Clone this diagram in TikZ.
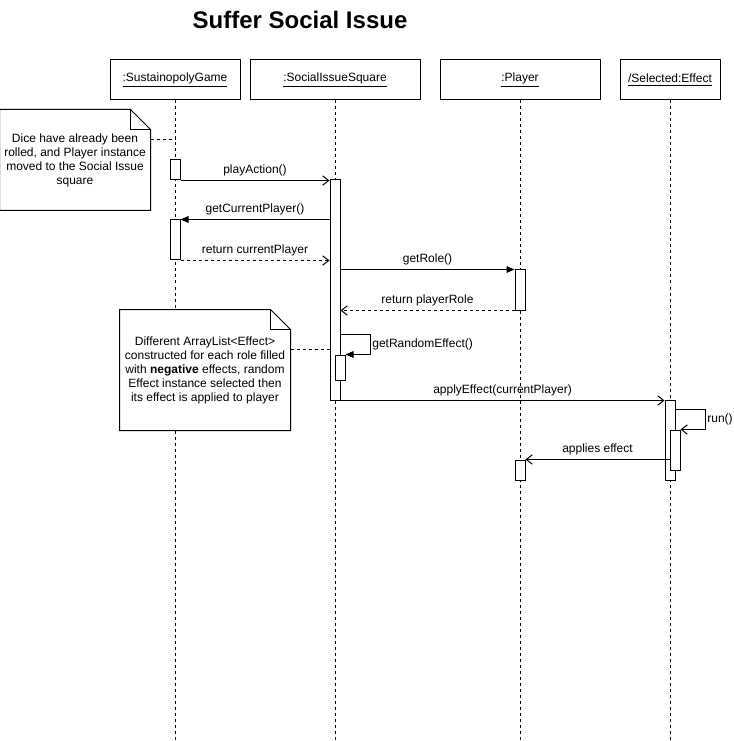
\documentclass[tikz,border=0pt]{standalone}
\usepackage{fontspec}
\setsansfont{Liberation Sans}
\usetikzlibrary{arrows.meta,calc}

\begin{document}
\begin{tikzpicture}[
  x=0.75pt, y=-0.75pt,
  line width=0.75pt,
  font=\sffamily\fontsize{9}{10.5}\selectfont,
  basic/.style = {inner sep=0pt},
  head/.style = {basic, draw, minimum height=30pt},
  act/.style = {basic, draw, fill=white, minimum width=7.5pt},
  note/.style = {basic, fill=white, align=center},
  life/.style = {dash pattern=on 2.25pt off 2.25pt},
  selflabel/.style = {right, inner sep=1pt},
  %call/.style = {-{To}},
  call/.style = {-{Straight Barb[length=4.5pt,width=7pt]}},
  sync/.style = {-{Triangle[length=6pt,width=5pt]}},
  reply/.style = {call, life},
]
  \useasboundingbox (0,0) rectangle (733,741);

  \node[font=\sffamily\bfseries\fontsize{18}{22}\selectfont] (title) at (300,20) {Suffer Social Issue};

  % objects and lifelines
  \node[head, minimum width=97.5pt] (game) at (175,80) {\underline{:SustainopolyGame}};
  \node[head, minimum width=127.5pt] (square) at (335,80) {\underline{:SocialIssueSquare}};
  \node[head, minimum width=120pt] (player) at (520,80) {\underline{:Player}};
  \node[head, minimum width=75pt] (effect) at (670,80) {\underline{/Selected:Effect}};
  \coordinate (bottom) at (0,741);
  \foreach \obj in {game,square,player,effect}
    \draw[life] (\obj.south) -- (\obj.south |- bottom);

  % notes
  \node[note, minimum width=112.5pt, minimum height=75pt] (note1) at (75,160) {%
    Dice have already been\\%
    rolled, and Player instance\\%
    moved to the Social Issue\\%
    square%
  };
  \node[note, minimum width=127.5pt, minimum height=90pt] (note2) at (205,370) {%
    Different ArrayList<Effect>\\%
    constructed for each role filled\\%
    with \textbf{negative} effects, random\\%
    Effect instance selected then\\%
    its effect is applied to player%
  };
  \foreach \nt in {note1,note2} {
    \draw (\nt.south west) |- ($(\nt.north east)+(-20,0)$) -- ($(\nt.north east)+(0,20)$) -- (\nt.south east) -- cycle;
    \draw ($(\nt.north east)+(-20,0)$) |- ($(\nt.north east)+(0,20)$);
  }

  % activations
  \node[act, minimum height=15pt] (a1) at (175,170) {};
  \node[act, minimum height=165pt] (a2) at (335,290) {};
  \node[act, minimum height=30pt] (a3) at (175,240) {};
  \node[act, minimum height=30pt] (a4) at (520,290) {};
  \node[act, minimum height=18.75pt] (a5) at (340,367.5) {};
  \node[act, minimum height=60pt] (a6) at (670,440) {};
  \node[act, minimum height=30pt] (a7) at (675,450) {};
  \node[act, minimum height=15pt] (a8) at (520,470) {};

  \coordinate (n1c) at ($(note1.north east)+(0,30)$);
  \coordinate (n2c) at ($(note2.north east)+(0,40)$);
  \draw[life] (n1c) -- (n1c -| game);
  \draw[life] (n2c) -- (n2c -| a2.west);

  % messages
  \draw[call] (a1.south east) -- (a1.south east -| a2.west) node[midway, above] {playAction()};
  \draw[sync] (a3.north east -| a2.west) -- (a3.north east) node[midway, above] {getCurrentPlayer()};
  \draw[reply] (a3.south east) -- (a3.south east -| a2.west) node[midway, above] {return currentPlayer};
  \draw[sync] (a4.north west -| a2.east) -- (a4.north west) node[midway, above] {getRole()};
  \draw[reply] (a4.south west) -- (a4.south west -| a2.east) node[midway, above] {return playerRole};
  \draw[sync] ($(a5.north -| a2.east)+(0,-20)$) -- ++(30,0) |- (a5.north east) node[pos=0.25, selflabel] {getRandomEffect()};
  \draw[call] (a2.south east) -- (a2.south east -| a6.west) node[midway, above] {applyEffect(currentPlayer)};
  \draw[call] ($(a6.north east)+(0,10)$) -- ++(30,0) |- (a7.north east) node[pos=0.25, selflabel] {run()};
  \draw[call] (a8.north east -| a7.west) -- (a8.north east) node[midway, above] {applies effect};
\end{tikzpicture}
\end{document}
